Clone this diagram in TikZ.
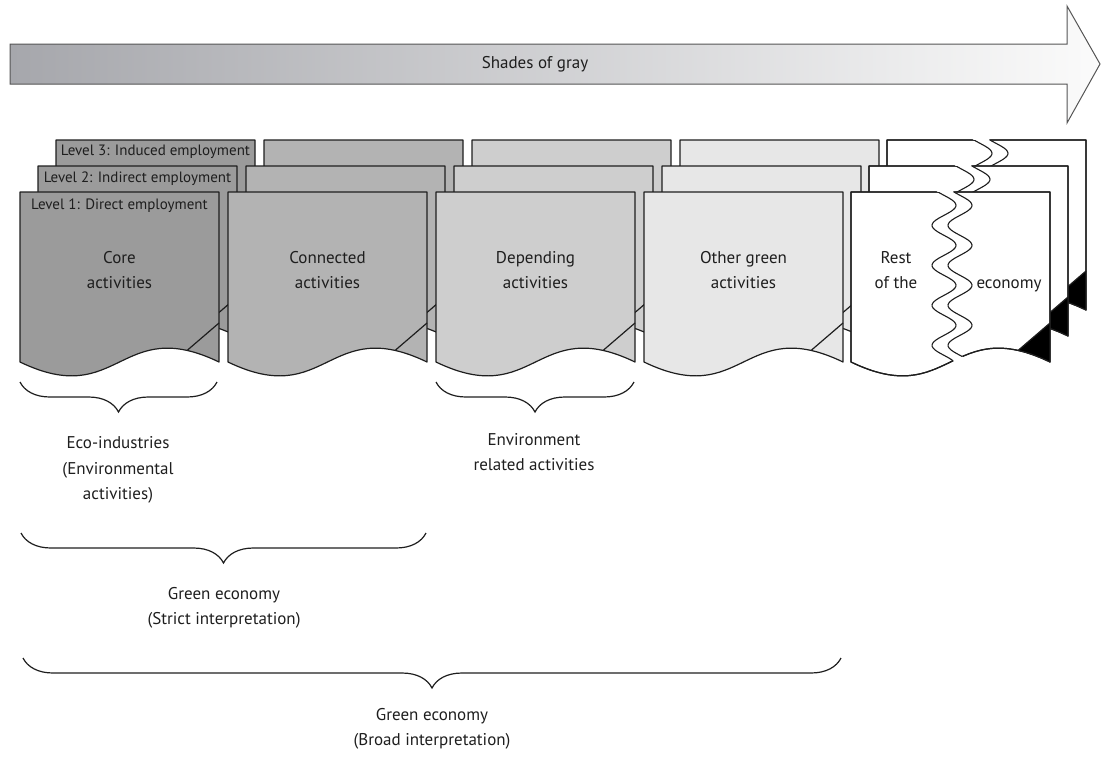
\documentclass[tikz,border=0pt]{standalone}
\usepackage{fontspec}
\setmainfont{PT Sans}
\usetikzlibrary{decorations.pathreplacing}
\definecolor{arrL}{RGB}{166,167,172}
\definecolor{arrR}{RGB}{251,251,251}
\definecolor{arrB}{RGB}{85,85,85}
\definecolor{fillA}{RGB}{155,155,155}
\definecolor{fillB}{RGB}{179,179,179}
\definecolor{fillC}{RGB}{206,206,206}
\definecolor{fillD}{RGB}{231,231,231}
\definecolor{ink}{RGB}{30,30,30}
\newcommand\docbox[3]{%
  \filldraw[docline, fill=#3] (#1,#2) -- ({#1+199},#2) -- ({#1+199},{#2+170}) .. controls ({#1+99.5},{#2+122}) and ({#1+99.5},{#2+218}) .. (#1,{#2+170}) -- cycle;
  \draw[docline] ({#1+167},{#2+158.5}) -- ({#1+199},{#2+131});
}
\newcommand\restbox[2]{%
  \filldraw[docline, fill=white] (#1,#2) -- ({#1+199},#2) -- ({#1+199},{#2+170}) .. controls ({#1+99.5},{#2+122}) and ({#1+99.5},{#2+218}) .. (#1,{#2+170}) -- cycle;
  \begin{scope}
    \clip (#1,#2) -- ({#1+199},#2) -- ({#1+199},{#2+170}) .. controls ({#1+99.5},{#2+122}) and ({#1+99.5},{#2+218}) .. (#1,{#2+170}) -- cycle;
    \fill[black] ({#1+150},{#2+173.1}) -- ({#1+209},{#2+122.4}) -- ({#1+230},{#2+122.4}) -- ({#1+230},{#2+200}) -- ({#1+150},{#2+200}) -- cycle;
  \end{scope}
  \draw[docline] (#1,#2) -- ({#1+199},#2) -- ({#1+199},{#2+170}) .. controls ({#1+99.5},{#2+122}) and ({#1+99.5},{#2+218}) .. (#1,{#2+170}) -- cycle;
  \draw[docline] ({#1+167},{#2+158.5}) -- ({#1+199},{#2+131});
  \fill[white] plot[domain=-2:196, samples=120, variable=\t] ({#1+93+12*sin(9*\t-30)},{#2+\t})
     -- plot[domain=196:-2, samples=120, variable=\t] ({#1+109+12*sin(9*\t-30)},{#2+\t}) -- cycle;
  \begin{scope}
    \clip (#1,#2) -- ({#1+199},#2) -- ({#1+199},{#2+170}) .. controls ({#1+99.5},{#2+122}) and ({#1+99.5},{#2+218}) .. (#1,{#2+170}) -- cycle;
    \draw[tear] plot[domain=-2:196, samples=120, variable=\t] ({#1+93+12*sin(9*\t-30)},{#2+\t});
    \draw[tear] plot[domain=-2:196, samples=120, variable=\t] ({#1+109+12*sin(9*\t-30)},{#2+\t});
  \end{scope}
}
\begin{document}
\begin{tikzpicture}[x=1pt,y=-1pt,
  docline/.style={draw=ink, line width=1.2pt, line join=round},
  tear/.style={draw=ink, line width=1.1pt},
  lbl/.style={font=\fontsize{17}{25.5}\selectfont, align=center, text=ink},
  lvl/.style={font=\fontsize{15}{16}\selectfont, text=ink},
  brc/.style={draw=ink, line width=1.2pt, decorate, decoration={brace, mirror, amplitude=30pt}},
]
\useasboundingbox (0,0) rectangle (1102,758);
% top arrow
\shadedraw[left color=arrL, right color=arrR, draw=arrB, line width=1pt]
  (10,44) -- (1067,44) -- (1067,6) -- (1100,64) -- (1067,123) -- (1067,84) -- (10,84) -- cycle;
\node[lbl] (shades) at (535,64) {Shades of gray};
% level 3
\docbox{56}{140}{fillA}
\docbox{264}{140}{fillB}
\docbox{472}{140}{fillC}
\docbox{680}{140}{fillD}
\restbox{887}{140}
% level 2
\docbox{38}{166}{fillA}
\docbox{246}{166}{fillB}
\docbox{454}{166}{fillC}
\docbox{662}{166}{fillD}
\restbox{869}{166}
% level 1
\docbox{20}{192}{fillA}
\docbox{228}{192}{fillB}
\docbox{436}{192}{fillC}
\docbox{644}{192}{fillD}
\restbox{851}{192}
% level labels
\node[lvl] (lv3) at (155.5,152) {Level 3: Induced employment};
\node[lvl] (lv2) at (137.5,178.5) {Level 2: Indirect employment};
\node[lvl] (lv1) at (119.5,206) {Level 1: Direct employment};
% activity labels
\node[lbl] (core) at (119.5,270) {Core\\activities};
\node[lbl] (conn) at (327.5,270) {Connected\\activities};
\node[lbl] (dep) at (535.5,270) {Depending\\activities};
\node[lbl] (oth) at (743.5,270) {Other green\\activities};
\node[lbl] (rest) at (896,270) {Rest\\of the};
\node[lbl, anchor=base] (econ) at (1009,288) {economy};
% braces
\coordinate (b1a) at (20,382); \coordinate (b1b) at (217,382);
\coordinate (b2a) at (436,382); \coordinate (b2b) at (634,382);
\coordinate (b3a) at (21,533); \coordinate (b3b) at (426,533);
\coordinate (b4a) at (23,658); \coordinate (b4b) at (841,658);
\draw[brc] (b1a) -- (b1b);
\draw[brc] (b2a) -- (b2b);
\draw[brc] (b3a) -- (b3b);
\draw[brc] (b4a) -- (b4b);
\node[lbl] (eco) at (118,470) {Eco-industries\\(Environmental\\activities)};
\node[lbl] (env) at (534,452) {Environment\\related activities};
\node[lbl] (strict) at (224,608) {Green economy\\(Strict interpretation)};
\node[lbl] (broad) at (432,729) {Green economy\\(Broad interpretation)};
\end{tikzpicture}
\end{document}
